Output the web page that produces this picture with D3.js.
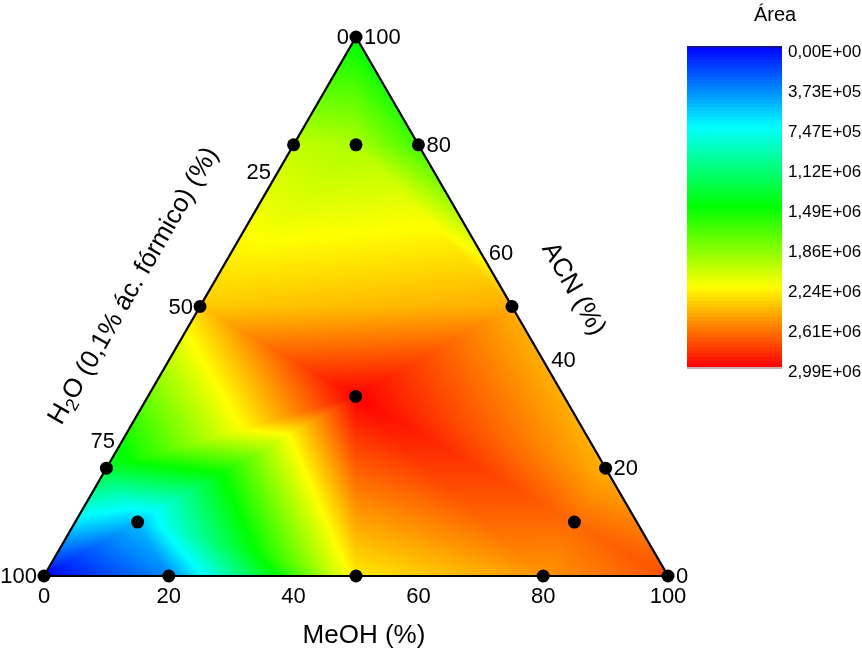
<!DOCTYPE html>
<html>
<head>
<meta charset="utf-8">
<script src="https://cdn.jsdelivr.net/npm/d3@7"></script>
<style>
html,body{margin:0;padding:0;background:#fff;}
#wrap{position:relative;width:862px;height:653px;}
canvas,svg{position:absolute;left:0;top:0;}
text{font-family:"Liberation Sans",Arial,sans-serif;fill:#000;}
</style>
</head>
<body>
<div id="wrap"><canvas id="cv" width="862" height="653"></canvas><svg id="sv" width="862" height="653"></svg></div>
<script>
// ---- data (MeOH %, ACN %, H2O % = 100 - MeOH - ACN) ----
const meoh = [0, 0, 10, 20, 0, 50, 33.3, 0, 80, 10, 80, 0, 20, 50, 80, 100];
const acn  = [100, 80, 80, 80, 50, 50, 33.3, 20, 20, 10, 10, 0, 0, 0, 0, 0];
const area = [1.47e6, 2.06e6, 2.00e6, 1.68e6, 2.40e6, 2.48e6, 2.99e6, 1.35e6, 2.47e6, 0.55e6, 2.68e6, 0.0, 0.40e6, 2.30e6, 2.55e6, 2.75e6];
// interpolation mesh: triangles as point indices
const mesh = [
  [0, 1, 2], [0, 2, 3], [1, 4, 2], [2, 4, 5], [2, 5, 3], [4, 6, 5],
  [4, 7, 6], [7, 9, 6], [9, 13, 6], [9, 12, 13], [9, 11, 12], [7, 11, 9],
  [5, 6, 8], [6, 13, 14], [6, 14, 10], [6, 10, 8], [14, 15, 10], [10, 15, 8]
];
const meohTicks = [0, 20, 40, 60, 80, 100];
const acnTicks = [0, 20, 40, 60, 80, 100];
const h2oTicks = [0, 25, 50, 75, 100];
const legendLabels = ["0,00E+00","3,73E+05","7,47E+05","1,12E+06","1,49E+06","1,86E+06","2,24E+06","2,61E+06","2,99E+06"];
const areaMax = 2.99e6;

// ---- scales ----
const x = d3.scaleLinear().domain([0, 100]).range([44, 668]);   // MeOH + ACN/2
const y = d3.scaleLinear().domain([0, 100]).range([576, 37]);   // ACN
const px = (m, a) => x(m + a / 2);
const py = (m, a) => y(a);
const color = d3.scaleLinear()
  .domain([0, 0.25, 0.5, 0.75, 1].map(t => t * areaMax))
  .range(["#0000ff", "#00ffff", "#00ff00", "#ffff00", "#ff0000"])
  .clamp(true);

// ---- interpolated field on canvas (linear over mesh triangles) ----
const pts = meoh.map((m, i) => [px(m, acn[i]), py(m, acn[i])]);
const cv = document.getElementById("cv");
const ctx = cv.getContext("2d");
const img = ctx.createImageData(862, 653);
mesh.forEach(([i0, i1, i2]) => {
  const [x0, y0] = pts[i0], [x1, y1] = pts[i1], [x2, y2] = pts[i2];
  const det = (y1 - y2) * (x0 - x2) + (x2 - x1) * (y0 - y2);
  const minX = Math.floor(Math.min(x0, x1, x2)), maxX = Math.ceil(Math.max(x0, x1, x2));
  const minY = Math.floor(Math.min(y0, y1, y2)), maxY = Math.ceil(Math.max(y0, y1, y2));
  for (let yy = minY; yy <= maxY; yy++) {
    for (let xx = minX; xx <= maxX; xx++) {
      const cx = xx + 0.5, cy = yy + 0.5;
      const l0 = ((y1 - y2) * (cx - x2) + (x2 - x1) * (cy - y2)) / det;
      const l1 = ((y2 - y0) * (cx - x2) + (x0 - x2) * (cy - y2)) / det;
      const l2 = 1 - l0 - l1;
      const e = -1e-4;
      if (l0 < e || l1 < e || l2 < e) continue;
      const v = l0 * area[i0] + l1 * area[i1] + l2 * area[i2];
      const c = d3.rgb(color(v));
      const o = (yy * 862 + xx) * 4;
      img.data[o] = c.r; img.data[o + 1] = c.g; img.data[o + 2] = c.b; img.data[o + 3] = 255;
    }
  }
});
ctx.putImageData(img, 0, 0);

// ---- svg overlay ----
const svg = d3.select("#sv");
const A = [px(0, 100), py(0, 100)], L = [px(0, 0), py(0, 0)], R = [px(100, 0), py(100, 0)];
svg.append("path")
  .attr("d", "M" + A + "L" + R + "L" + L + "Z")
  .attr("fill", "none").attr("stroke", "#000").attr("stroke-width", 2.2).attr("stroke-linejoin", "miter");

// points
svg.append("g").selectAll("circle").data(pts).join("circle")
  .attr("cx", d => d[0]).attr("cy", d => d[1]).attr("r", 6.5).attr("fill", "#000");

// bottom ticks (MeOH)
svg.append("g").selectAll("text").data(meohTicks).join("text")
  .attr("x", d => px(d, 0)).attr("y", py(0, 0) + 27)
  .attr("text-anchor", "middle").attr("font-size", 22).text(d => d);

// right ticks (ACN)
svg.append("g").selectAll("text").data(acnTicks).join("text")
  .attr("x", d => px(100 - d, d) + 8).attr("y", d => py(100 - d, d) + 7)
  .attr("text-anchor", "start").attr("font-size", 22).text(d => d);

// left ticks (H2O)
svg.append("g").selectAll("text").data(h2oTicks).join("text")
  .attr("x", d => px(0, 100 - d) - 7).attr("y", d => py(0, 100 - d) + 7)
  .attr("text-anchor", "end").attr("font-size", 22).text(d => d);

// axis titles
svg.append("text").attr("x", 364).attr("y", 643).attr("text-anchor", "middle")
  .attr("font-size", 26).text("MeOH (%)");
svg.append("text").attr("transform", "translate(575,288) rotate(60)")
  .attr("text-anchor", "middle").attr("dy", "0.35em").attr("font-size", 26).text("ACN (%)");
const h = svg.append("text").attr("transform", "translate(132,285) rotate(-60)")
  .attr("text-anchor", "middle").attr("dy", "0.35em").attr("font-size", 26);
h.append("tspan").text("H");
h.append("tspan").attr("font-size", 18).attr("dy", 5).text("2");
h.append("tspan").attr("dy", -5).text("O (0,1% ác. fórmico) (%)");

// legend
const ly = d3.scaleLinear().domain([0, areaMax]).range([47, 367]);
const nBands = 96;
const bands = d3.range(nBands).map(i => i * areaMax / nBands);
const lg = svg.append("g");
lg.selectAll("rect").data(bands).join("rect")
  .attr("x", 687).attr("width", 95)
  .attr("y", d => ly(d)).attr("height", ly(areaMax / nBands) - ly(0) + 0.6)
  .attr("fill", d => color(d + areaMax / nBands / 2));
lg.append("rect").attr("x", 687).attr("width", 95).attr("y", 46).attr("height", 1.5).attr("fill", "#1a1a70");
lg.append("rect").attr("x", 687).attr("width", 95).attr("y", 367).attr("height", 2).attr("fill", "#c8b0b0");
lg.selectAll("text").data(legendLabels).join("text")
  .attr("x", 788).attr("y", (d, i) => ly(i * areaMax / 8) + 4 + 6)
  .attr("font-size", 17).text(d => d);
svg.append("text").attr("x", 775).attr("y", 21).attr("text-anchor", "middle")
  .attr("font-size", 20).text("Área");
</script>
</body>
</html>
